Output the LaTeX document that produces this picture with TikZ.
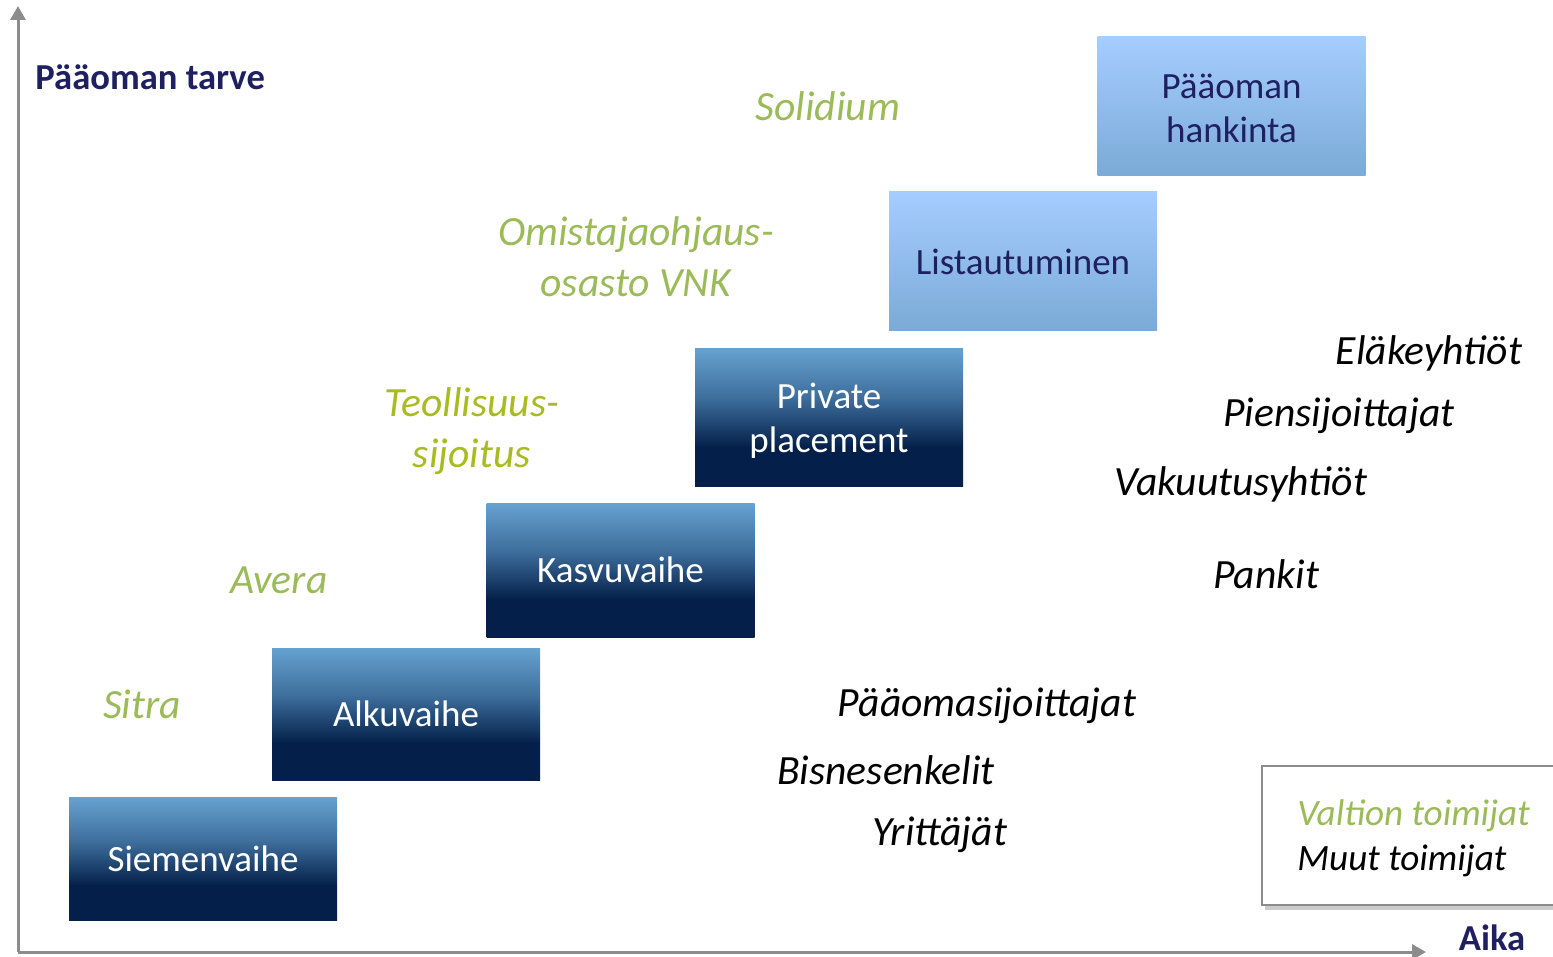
\documentclass[tikz,border=0pt]{standalone}
\usepackage{fontspec}
\setmainfont{Carlito}
\usetikzlibrary{arrows.meta,shadows}
\definecolor{navytxt}{HTML}{1F2060}
\definecolor{grn}{HTML}{9BBB59}
\definecolor{ygrn}{HTML}{A8BC22}
\definecolor{axgray}{HTML}{8C8C8C}
\definecolor{dnavy}{HTML}{04204A}
\definecolor{mblue}{HTML}{3E6E9C}
\definecolor{lblue}{HTML}{66A2D0}
\definecolor{ltop}{HTML}{A5CDFF}
\definecolor{lbot}{HTML}{7BAAD6}
\pgfdeclareverticalshading{darkbox}{100bp}{color(0bp)=(dnavy); color(25bp)=(dnavy); color(39bp)=(dnavy); color(57bp)=(mblue); color(75bp)=(lblue); color(100bp)=(lblue)}
\begin{document}
\begin{tikzpicture}[x=0.5pt,y=-0.5pt,
  darkstage/.style={shading=darkbox, text=white, minimum width=134pt, inner sep=0pt, align=center,
    font=\fontsize{18.5}{22}\selectfont},
  lightstage/.style={top color=ltop, bottom color=lbot, text=navytxt, minimum width=134pt, inner sep=0pt, align=center,
    font=\fontsize{18.5}{22}\selectfont},
  stagetext/.style={inner sep=0pt, align=center, font=\fontsize{18.5}{22}\selectfont},
  govlabel/.style={text=grn, align=center, inner sep=0pt, yshift=-0.75pt, font=\fontsize{20.8}{25.5}\selectfont\itshape},
  govlabelb/.style={text=ygrn, align=center, inner sep=0pt, yshift=-0.75pt, font=\fontsize{20.8}{25.5}\selectfont\itshape},
  otherlabel/.style={text=black, inner sep=0pt, yshift=-1.2pt, font=\fontsize{20.8}{25.5}\selectfont\itshape},
  axislabel/.style={text=navytxt, inner sep=0pt, font=\fontsize{18.3}{22}\selectfont\bfseries},
  axisline/.style={draw=axgray, line width=1.5pt, -{Triangle[length=7pt,width=7.5pt]}}
]
\useasboundingbox (0,0) rectangle (1553,957);

% axes
\coordinate (orig) at (18,952);
\coordinate (ytop) at (18,6);
\coordinate (xend) at (1426,952);
\draw[axisline] (orig) -- (ytop);
\draw[axisline] (orig) -- (xend);
\node[axislabel, anchor=west] (ylab) at (35,77) {Pääoman tarve};
\node[axislabel] (xlab) at (1492,938) {Aika};

% stages
\node[darkstage, minimum height=61.5pt] (seed) at (203,858.5) {Siemenvaihe};
\node[darkstage, minimum height=66pt] (start) at (406,714) {Alkuvaihe};
\node[darkstage, minimum height=67pt] (grow) at (620.5,570) {Kasvuvaihe};
\node[darkstage, minimum height=69pt] (priv) at (829,417) {};
\node[stagetext, text=white] (privtext) at ([yshift=-1.7pt]priv.center) {Private\\placement};
\node[lightstage, minimum height=69.5pt] (list) at (1023,261.5) {Listautuminen};
\node[lightstage, minimum height=69.5pt] (capital) at (1231.5,106.5) {};
\node[stagetext, text=navytxt] (captext) at ([yshift=-1pt]capital.center) {Pääoman\\hankinta};

% government actors
\node[govlabel] (solidium) at (828,105) {Solidium};
\node[govlabel] (vnk) at (636,255) {Omistajaohjaus-\\osasto VNK};
\node[govlabelb] (teoll) at (472,430) {Teollisuus-\\sijoitus};
\node[govlabel] (avera) at (279,579) {Avera};
\node[govlabel] (sitra) at (142,703) {Sitra};

% other actors
\node[otherlabel] (elake) at (1429,351) {Eläkeyhtiöt};
\node[otherlabel] (piens) at (1339,413) {Piensijoittajat};
\node[otherlabel] (vakuu) at (1241,482) {Vakuutusyhtiöt};
\node[otherlabel] (pankit) at (1266,572) {Pankit};
\node[otherlabel] (paaom) at (987,703) {Pääomasijoittajat};
\node[otherlabel] (bisnes) at (886,768) {Bisnesenkelit};
\node[otherlabel] (yritt) at (940,832) {Yrittäjät};

% legend
\node[draw=axgray, line width=0.9pt, fill=white, minimum width=146pt, minimum height=69.5pt,
  drop shadow={opacity=0.4, shadow xshift=1.5pt, shadow yshift=-2.5pt}] (legend) at (1408,835.5) {};
\node[anchor=west, inner sep=0pt, yshift=-1pt, text=grn, font=\fontsize{18.6}{22}\selectfont\itshape] (valt) at (1297,814) {Valtion toimijat};
\node[anchor=west, inner sep=0pt, yshift=-1pt, text=black, font=\fontsize{18.6}{22}\selectfont\itshape] (muut) at (1297,859) {Muut toimijat};
\end{tikzpicture}
\end{document}
